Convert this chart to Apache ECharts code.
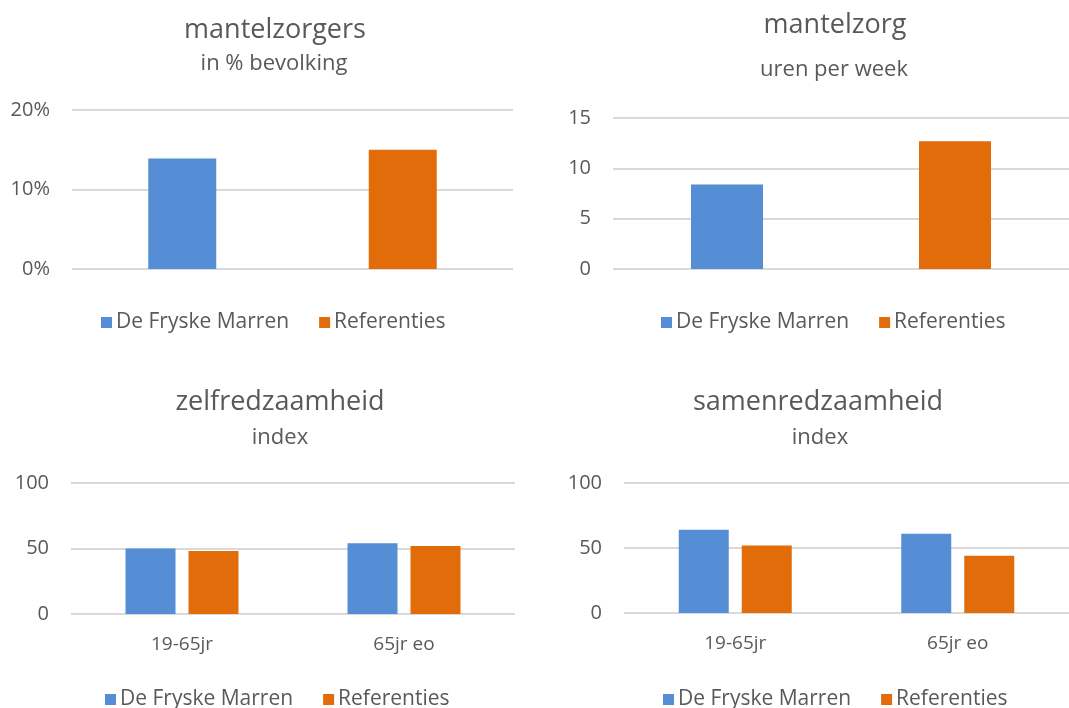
<!DOCTYPE html>
<html>
<head>
<meta charset="utf-8">
<script src="https://cdn.jsdelivr.net/npm/echarts@6/dist/echarts.min.js"></script>
<style>
  html, body { margin: 0; padding: 0; background: #fff; }
  #chart { width: 1069px; height: 708px; }
</style>
</head>
<body>
<div id="chart"></div>
<script>
// reeksen
const seriesNames = ['De Fryske Marren', 'Referenties'];
const seriesColors = ['#558ed5', '#e36c0a'];

// mantelzorgers, in % bevolking
const mantelzorgersPct = [13.9, 15.0];
// mantelzorg, uren per week
const mantelzorgUren = [8.4, 12.7];

// leeftijdsgroepen voor de index-grafieken
const ageGroups = ['19-65jr', '65jr eo'];
const zelfFryske = [50, 54];
const zelfRef = [48, 52];
const samenFryske = [64, 61];
const samenRef = [52, 44];

const font = '"Open Sans", "Noto Sans", sans-serif';
const grey = '#595959';
const gridLine = { show: true, lineStyle: { color: '#d9d9d9', width: 2 } };

const grids = [
  { left: 72, top: 110, width: 441, height: 159 },
  { left: 613, top: 118, width: 461, height: 151 },
  { left: 71, top: 483, width: 444, height: 131 },
  { left: 624, top: 483, width: 451, height: 130 }
];

function xAxis(gi, data, showLabels) {
  return {
    type: 'category', gridIndex: gi, data: data,
    axisLine: { show: false }, axisTick: { show: false },
    axisLabel: { show: showLabels, color: grey, fontSize: 19, fontFamily: font, margin: 21 }
  };
}
function yAxis(gi, max, interval, fmt) {
  return {
    type: 'value', gridIndex: gi, min: 0, max: max, interval: interval,
    splitLine: gridLine, axisLine: { show: false }, axisTick: { show: false },
    axisLabel: { color: grey, fontSize: 20, fontFamily: font, margin: 22, formatter: fmt }
  };
}

// één staaf per categorie: twee reeksen gestapeld zodat ze gecentreerd staan
function singleBars(gi, values, width) {
  return seriesNames.map((name, i) => ({
    name: name, type: 'bar', xAxisIndex: gi, yAxisIndex: gi,
    stack: 'g' + gi, barWidth: width,
    itemStyle: { color: seriesColors[i] },
    data: values.map((v, j) => (j === i ? v : '-'))
  }));
}
function groupBars(gi, fryske, ref) {
  return [fryske, ref].map((vals, i) => ({
    name: seriesNames[i], type: 'bar', xAxisIndex: gi, yAxisIndex: gi,
    barWidth: 50, barGap: '26%',
    itemStyle: { color: seriesColors[i] },
    data: vals
  }));
}

function title(text, x, y, size) {
  return { text: text, left: x, top: y, textAlign: 'center',
    textStyle: { color: grey, fontSize: size, fontWeight: 'normal', fontFamily: font } };
}
function legend(x, y) {
  return {
    data: seriesNames, left: x, top: y, icon: 'rect', itemWidth: 11, itemHeight: 11,
    itemGap: 30, selectedMode: false,
    textStyle: { color: grey, fontSize: 21, fontFamily: font, padding: [0, 0, 0, -1] }
  };
}

const chart = echarts.init(document.getElementById('chart'), null, { renderer: 'canvas' });
chart.setOption({
  animation: false,
  backgroundColor: '#fff',
  title: [
    title('mantelzorgers', 270, 12, 27),
    title('in % bevolking', 269, 48, 22),
    title('mantelzorg', 830, 7, 27),
    title('uren per week', 829, 54, 22),
    title('zelfredzaamheid', 275, 384, 27),
    title('index', 275, 422, 22),
    title('samenredzaamheid', 813, 384, 27),
    title('index', 815, 422, 22)
  ],
  legend: [legend(96, 307), legend(656, 307), legend(100, 684), legend(658, 684)],
  grid: grids,
  xAxis: [
    xAxis(0, seriesNames, false),
    xAxis(1, seriesNames, false),
    xAxis(2, ageGroups, true),
    xAxis(3, ageGroups, true)
  ],
  yAxis: [
    yAxis(0, 20, 10, '{value}%'),
    yAxis(1, 15, 5),
    yAxis(2, 100, 50),
    yAxis(3, 100, 50)
  ],
  series: [
    ...singleBars(0, mantelzorgersPct, 68),
    ...singleBars(1, mantelzorgUren, 72),
    ...groupBars(2, zelfFryske, zelfRef),
    ...groupBars(3, samenFryske, samenRef)
  ]
});
</script>
</body>
</html>
